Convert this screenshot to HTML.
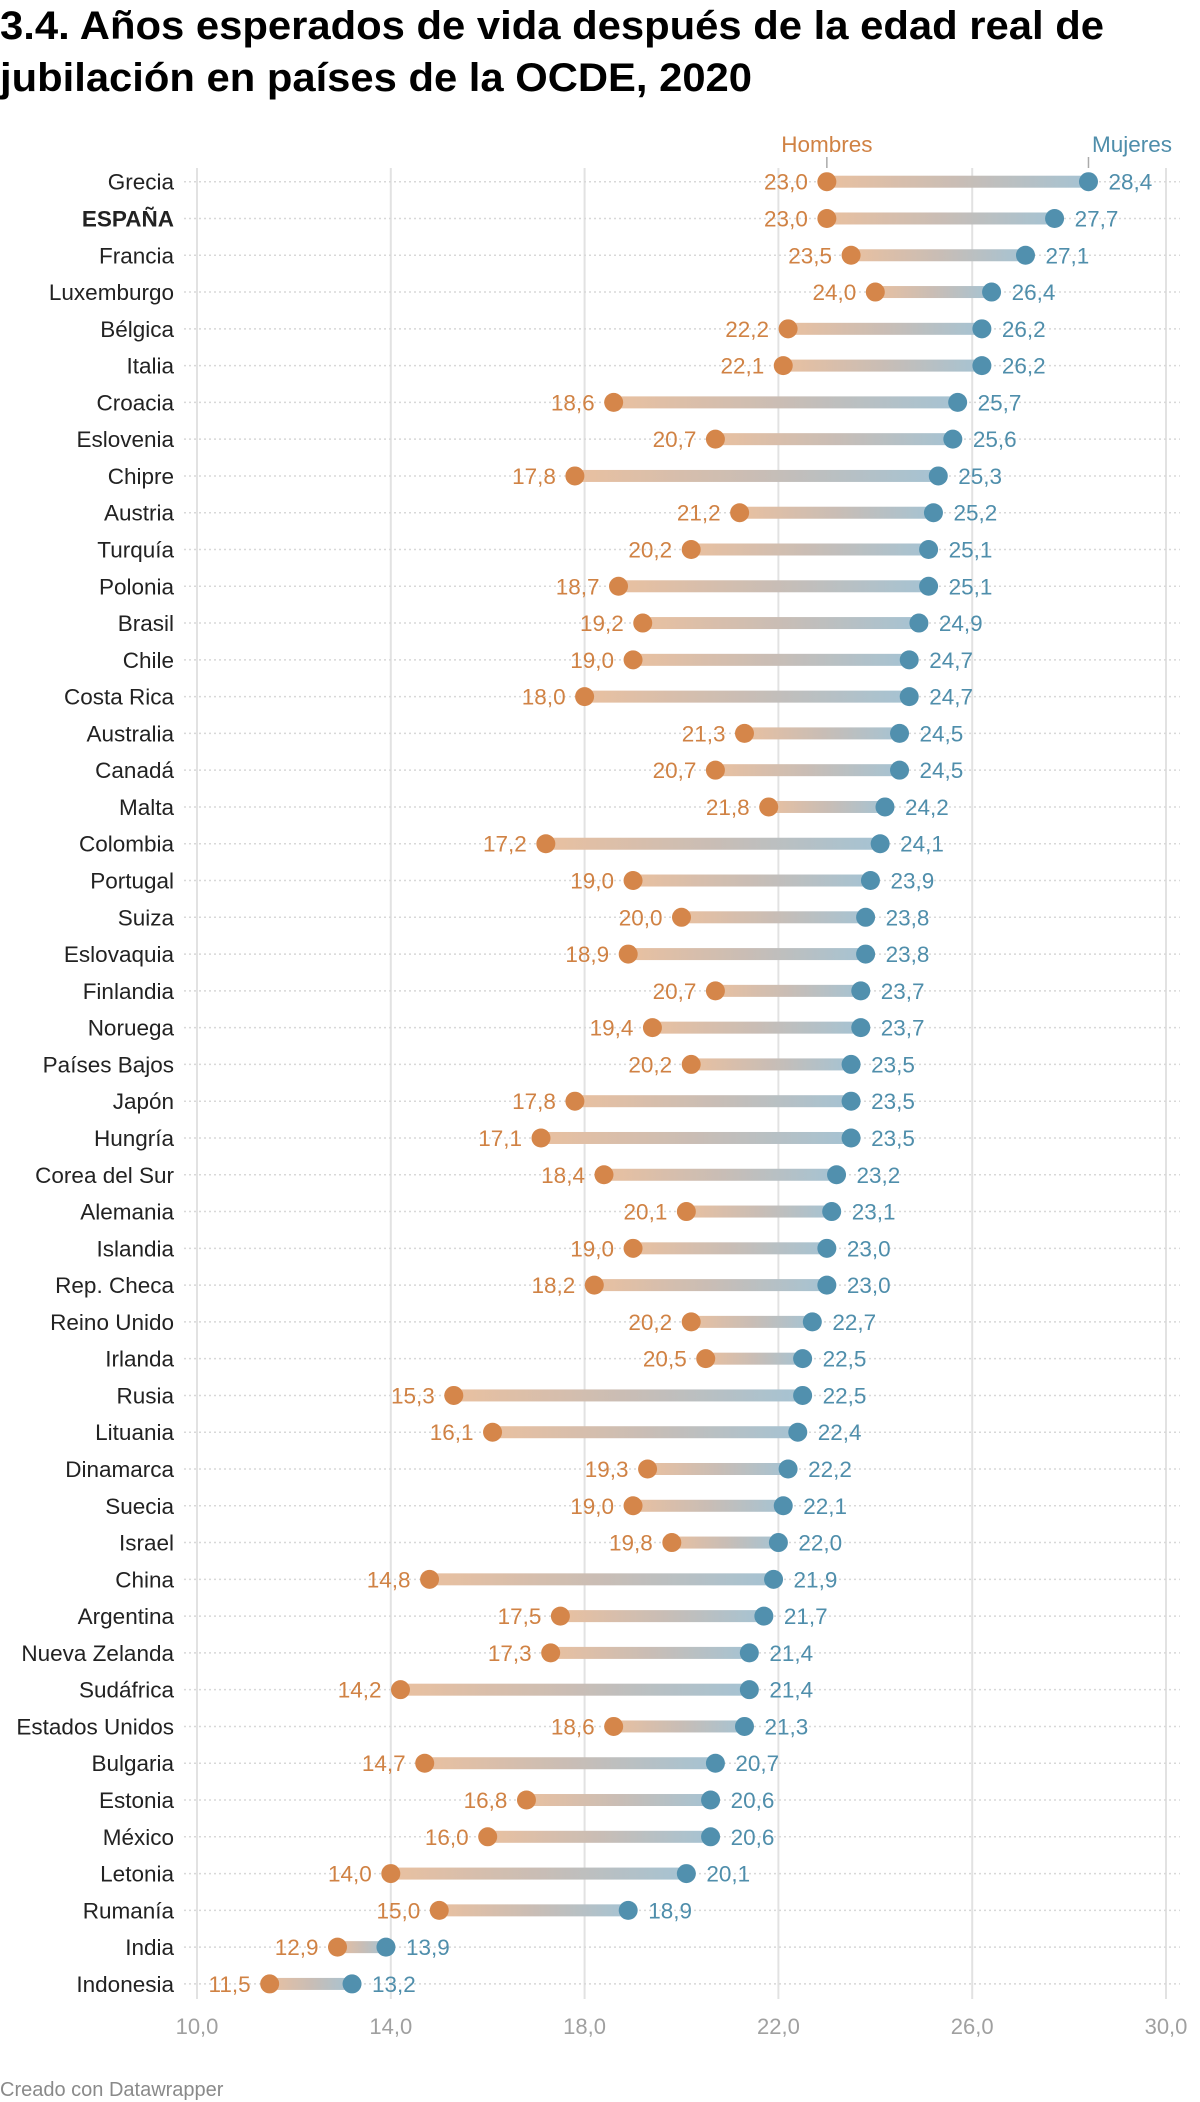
<!DOCTYPE html>
<html><head><meta charset="utf-8"><style>
html,body{margin:0;padding:0;background:#fff;}
svg{display:block;font-family:"Liberation Sans",sans-serif;}
</style></head><body>
<svg id="chart" width="1200" height="2102" viewBox="0 0 1200 2102" xmlns="http://www.w3.org/2000/svg">
<defs>
<linearGradient id="barGrad" x1="0" y1="0" x2="1" y2="0">
<stop offset="0" stop-color="#e9c0a0"/>
<stop offset="0.5" stop-color="#c9bdb5"/>
<stop offset="1" stop-color="#a5c3d3"/>
</linearGradient>
</defs>
<text x="0" y="39" font-size="40" font-weight="bold" fill="#000" textLength="1104" lengthAdjust="spacingAndGlyphs">3.4. Años esperados de vida después de la edad real de</text>
<text x="0" y="91" font-size="40" font-weight="bold" fill="#000" textLength="752" lengthAdjust="spacingAndGlyphs">jubilación en países de la OCDE, 2020</text>
<g id="grid"></g>
<g id="rows"></g>
<g id="legend"></g>
<g id="xaxis"></g>
<text x="0" y="2096" font-size="20" fill="#8a8a8a">Creado con Datawrapper</text>
</svg>
<script>
const countries = ["Grecia","ESPAÑA","Francia","Luxemburgo","Bélgica","Italia","Croacia","Eslovenia","Chipre","Austria","Turquía","Polonia","Brasil","Chile","Costa Rica","Australia","Canadá","Malta","Colombia","Portugal","Suiza","Eslovaquia","Finlandia","Noruega","Países Bajos","Japón","Hungría","Corea del Sur","Alemania","Islandia","Rep. Checa","Reino Unido","Irlanda","Rusia","Lituania","Dinamarca","Suecia","Israel","China","Argentina","Nueva Zelanda","Sudáfrica","Estados Unidos","Bulgaria","Estonia","México","Letonia","Rumanía","India","Indonesia"];
const hombres = [23.0,23.0,23.5,24.0,22.2,22.1,18.6,20.7,17.8,21.2,20.2,18.7,19.2,19.0,18.0,21.3,20.7,21.8,17.2,19.0,20.0,18.9,20.7,19.4,20.2,17.8,17.1,18.4,20.1,19.0,18.2,20.2,20.5,15.3,16.1,19.3,19.0,19.8,14.8,17.5,17.3,14.2,18.6,14.7,16.8,16.0,14.0,15.0,12.9,11.5];
const mujeres = [28.4,27.7,27.1,26.4,26.2,26.2,25.7,25.6,25.3,25.2,25.1,25.1,24.9,24.7,24.7,24.5,24.5,24.2,24.1,23.9,23.8,23.8,23.7,23.7,23.5,23.5,23.5,23.2,23.1,23.0,23.0,22.7,22.5,22.5,22.4,22.2,22.1,22.0,21.9,21.7,21.4,21.4,21.3,20.7,20.6,20.6,20.1,18.9,13.9,13.2];
const xTicks = [10,14,18,22,26,30];

const NS = "http://www.w3.org/2000/svg";
const x = v => 197 + (v - 10) * 48.45;
const y = i => 181.7 + i * 36.78;
const fmt = v => v.toFixed(1).replace(".", ",");
function mk(tag, attrs, parent, txt){
  const e = document.createElementNS(NS, tag);
  for (const k in attrs) e.setAttribute(k, attrs[k]);
  if (txt !== undefined) e.textContent = txt;
  parent.appendChild(e);
  return e;
}
const gridG = document.getElementById("grid");
const rowsG = document.getElementById("rows");
const legendG = document.getElementById("legend");
const xaxisG = document.getElementById("xaxis");
const gridTop = 168, gridBottom = 1999;
const FS = 22.5;

xTicks.forEach(t => {
  const l = mk("line", {x1:x(t), x2:x(t), y1:gridTop, y2:gridBottom, stroke:"#e2e2e2", "stroke-width":2}, gridG);
  
  
  const tx = mk("text", {x:x(t), y:2034, "text-anchor":"middle", "font-size":22, fill:"#a0a0a0"}, xaxisG, fmt(t));
  
  
});

countries.forEach((c, i) => {
  const yy = y(i);
  const g = mk("g", {}, rowsG);
  
  
  const rl = mk("line", {x1:184, x2:1180, y1:yy, y2:yy, stroke:"#d8d8d8", "stroke-width":1.5, "stroke-dasharray":"2 3"}, g);
  
  
  const lab = mk("text", {x:174, y:yy + 8, "text-anchor":"end", "font-size":FS, fill:"#222", "font-weight": c === "ESPAÑA" ? "bold" : "normal"}, g, c);
  
  
  const h = hombres[i], m = mujeres[i];
  const bar = mk("rect", {x:x(h), y:yy - 6, width:Math.max(0.1, x(m) - x(h)), height:12, fill:"url(#barGrad)"}, g);
  
  
  const dh = mk("circle", {cx:x(h), cy:yy, r:9.5, fill:"#d5864a"}, g);
  
  
  const dm = mk("circle", {cx:x(m), cy:yy, r:9.5, fill:"#5190ae"}, g);
  
  
  const th = mk("text", {x:x(h) - 19, y:yy + 8, "text-anchor":"end", "font-size":FS, fill:"#d08244"}, g, fmt(h));
  
  
  const tm = mk("text", {x:x(m) + 20, y:yy + 8, "font-size":FS, fill:"#4f8eab"}, g, fmt(m));
  
  
});

const lh = mk("text", {x:x(hombres[0]), y:152, "text-anchor":"middle", "font-size":FS, fill:"#d08244"}, legendG, "Hombres");


const lhl = mk("line", {x1:x(hombres[0]), x2:x(hombres[0]), y1:157, y2:168, stroke:"#aaa", "stroke-width":1.5}, legendG);


const lm = mk("text", {x:1172, y:152, "text-anchor":"end", "font-size":FS, fill:"#4f8eab"}, legendG, "Mujeres");


const lml = mk("line", {x1:x(mujeres[0]), x2:x(mujeres[0]), y1:157, y2:168, stroke:"#aaa", "stroke-width":1.5}, legendG);


</script>
</body></html>
